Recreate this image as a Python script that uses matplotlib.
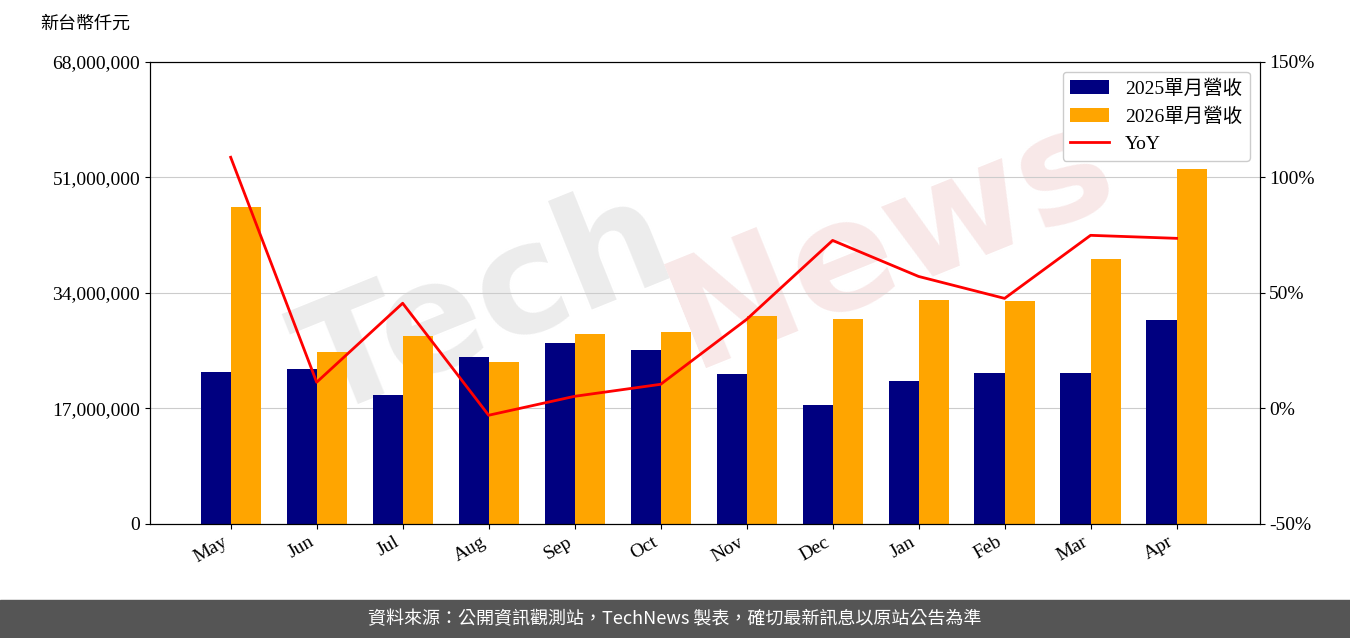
import matplotlib
matplotlib.use("Agg")
import matplotlib.pyplot as plt
import numpy as np

plt.rcParams['font.family'] = ['Liberation Serif', 'Noto Sans CJK TC', 'DejaVu Sans']

months = ["May","Jun","Jul","Aug","Sep","Oct","Nov","Dec","Jan","Feb","Mar","Apr"]
rev_2025 = [22.4,22.8,19.0,24.6,26.6,25.6,22.1,17.5,21.0,22.2,22.2,30.0]
rev_2026 = [46.7,25.3,27.7,23.8,28.0,28.3,30.6,30.2,33.0,32.8,39.0,52.3]
yoy = [108.7,11.3,45.5,-3.0,5.2,10.4,38.5,72.7,57.1,47.6,74.9,73.6]

fig = plt.figure(figsize=(13.5,6.38), dpi=100)
fig.text(0.36, 0.52, 'Tech', fontsize=110, rotation=22, ha='center', va='center',
         color='#ececec', fontweight='bold', family=['DejaVu Sans'], zorder=-5)
fig.text(0.66, 0.62, 'News', fontsize=110, rotation=22, ha='center', va='center',
         color='#f8e8e8', fontweight='bold', family=['DejaVu Sans'], zorder=-5)
ax = fig.add_axes([0.111,0.179,0.822,0.724])
ax.set_facecolor('none')
x = np.arange(len(months))
w = 0.35
b1 = ax.bar(x-w/2, np.array(rev_2025)*1e6, w, color='#000080', label='2025單月營收', zorder=2)
b2 = ax.bar(x+w/2, np.array(rev_2026)*1e6, w, color='#FFA500', label='2026單月營收', zorder=2)
ax.set_ylim(0,68e6)
ax.set_xlim(-0.94, 11.965)
ticks = [0,17e6,34e6,51e6,68e6]
ax.set_yticks(ticks)
ax.set_yticklabels([f"{int(t):,}" for t in ticks], fontsize=14)
ax.grid(axis='y', color='#cccccc', zorder=0)
ax.set_xticks(x)
ax.set_xticklabels(months, rotation=30, ha='right', fontsize=14)
ax2 = ax.twinx()
l, = ax2.plot(x, yoy, color='red', lw=2, label='YoY')
ax2.set_ylim(-50,150)
ax2.set_yticks([-50,0,50,100,150])
ax2.set_yticklabels(['-50%','0%','50%','100%','150%'], fontsize=14)
ax2.legend(handles=[b1,b2,l], loc='upper right', fontsize=14, framealpha=1)
fig.text(0.03, 0.955, '新台幣仟元', fontsize=13, family=['Noto Sans CJK TC'])
fig.patches.append(plt.Rectangle((0,0),1,0.06, transform=fig.transFigure, color='#555555'))
fig.text(0.5, 0.03, '資料來源：公開資訊觀測站，TechNews 製表，確切最新訊息以原站公告為準',
         color='white', fontsize=13, ha='center', va='center', family=['Noto Sans CJK TC'])
fig.savefig('out.png')
